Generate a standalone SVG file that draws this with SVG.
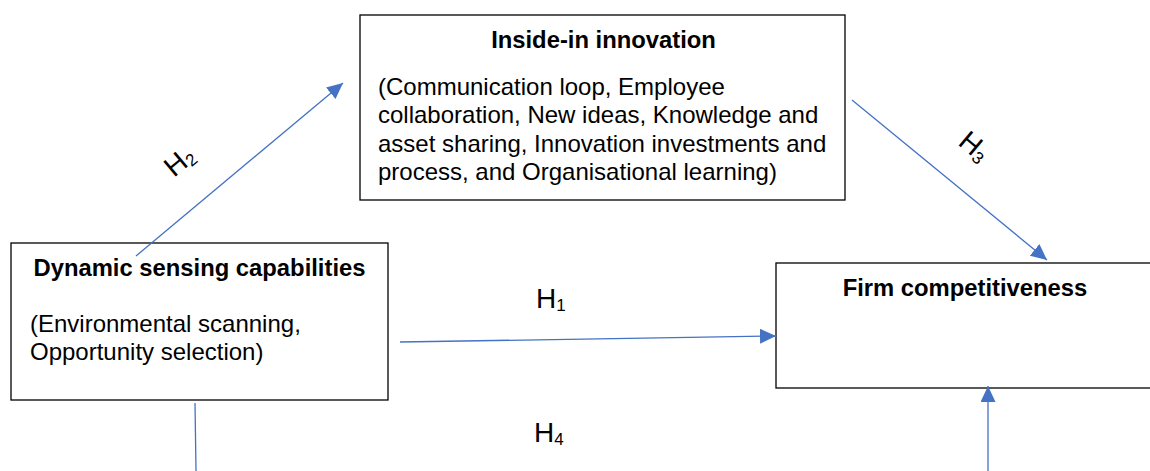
<svg xmlns="http://www.w3.org/2000/svg" width="1150" height="471" viewBox="0 0 1150 471">
  <style>
    .box { fill: #ffffff; stroke: #000000; stroke-width: 1.3; }
    .title { font-family: "Liberation Sans", Arial, sans-serif; font-size: 23.8px; font-weight: bold; fill: #000000; text-anchor: middle; }
    .body { font-family: "Liberation Sans", Arial, sans-serif; font-size: 24px; fill: #000000; }
    .link { fill: none; stroke: #4472C4; stroke-width: 1.3; }
    .hyp { font-family: "Liberation Sans", Arial, sans-serif; font-size: 28px; fill: #000000; }
    .sub { font-size: 17px; }
  </style>
  <defs>
    <marker id="arrow" markerUnits="userSpaceOnUse" markerWidth="17" markerHeight="16" refX="16" refY="7.5" orient="auto">
      <path d="M0,0 L16,7.5 L0,15 Z" fill="#4472C4"/>
    </marker>
  </defs>

  <rect width="1150" height="471" fill="#ffffff"/>

  <!-- Inside-in innovation -->
  <g id="inside-in-innovation">
    <rect class="box" x="360" y="15" width="485" height="185"/>
    <text class="title" x="603.5" y="48">Inside-in innovation</text>
    <text class="body" x="378" y="95">(Communication loop, Employee</text>
    <text class="body" x="378" y="123.3">collaboration, New ideas, Knowledge and</text>
    <text class="body" x="378" y="151.6">asset sharing, Innovation investments and</text>
    <text class="body" x="378" y="180">process, and Organisational learning)</text>
  </g>

  <!-- Dynamic sensing capabilities -->
  <g id="dynamic-sensing">
    <rect class="box" x="11" y="243" width="377" height="157"/>
    <text class="title" x="199.5" y="275.5">Dynamic sensing capabilities</text>
    <text class="body" x="30" y="331.5">(Environmental scanning,</text>
    <text class="body" x="30" y="360">Opportunity selection)</text>
  </g>

  <!-- Firm competitiveness -->
  <g id="firm-competitiveness">
    <rect class="box" x="776" y="263" width="390" height="125"/>
    <text class="title" x="965" y="295.5">Firm competitiveness</text>
  </g>

  <!-- Connectors -->
  <g id="connectors">
    <line class="link" x1="136" y1="256" x2="343" y2="83" marker-end="url(#arrow)"/>
    <line class="link" x1="852" y1="100" x2="1047" y2="260" marker-end="url(#arrow)"/>
    <line class="link" x1="400" y1="342" x2="776" y2="336" marker-end="url(#arrow)"/>
    <line class="link" x1="988" y1="471" x2="988" y2="386" marker-end="url(#arrow)"/>
    <line class="link" x1="195" y1="403" x2="196" y2="471"/>
  </g>

  <!-- Hypothesis labels -->
  <g id="hypotheses">
    <text class="hyp" x="536" y="307.5">H<tspan class="sub" dy="3">1</tspan></text>
    <text class="hyp" transform="translate(174,178) rotate(-40)">H<tspan class="sub" dy="3">2</tspan></text>
    <text class="hyp" transform="translate(957,144) rotate(40)">H<tspan class="sub" dy="3">3</tspan></text>
    <text class="hyp" x="534" y="441.5">H<tspan class="sub" dy="3">4</tspan></text>
  </g>
</svg>
